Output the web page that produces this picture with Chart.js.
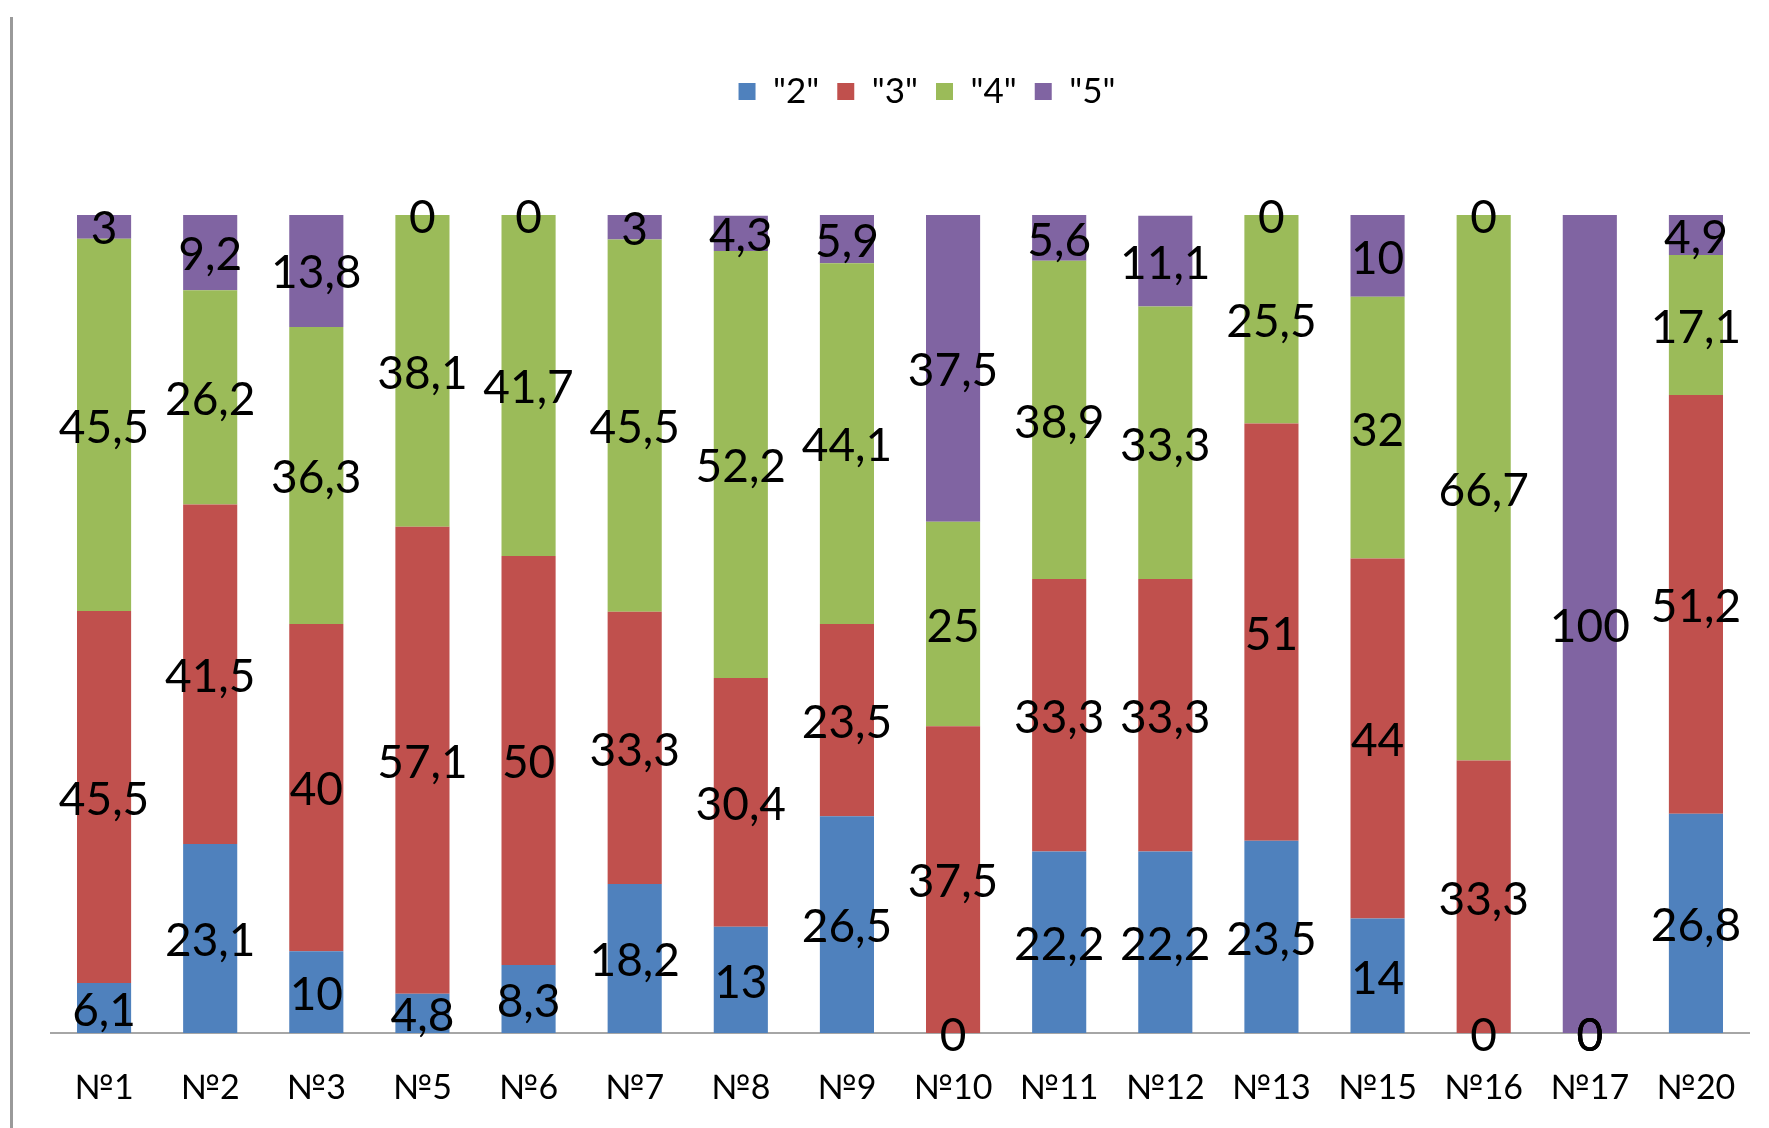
<!DOCTYPE html>
<html lang="ru">
  <head>
    <meta charset="UTF-8" />
    <title>Оценки по классам</title>
    <script src="https://cdn.jsdelivr.net/npm/chart.js"></script>
    <style>
      body {
        margin: 0;
        background: #ffffff;
      }
      /* chart frame */
      .wrap {
        position: relative;
        width: 1769px;
        height: 1128px;
      }
      .wrap .frame {
        position: absolute;
        left: 10px;
        top: 17px;
        bottom: 0;
        width: 3px;
        background: #9a9a9a;
      }
    </style>
  </head>
  <body>
    <div class="wrap">
      <div class="frame"></div>
      <canvas id="gradesChart" width="1769" height="1128"></canvas>
    </div>

    <script>
      // categories and percentages per grade (bottom to top)
      const categories = ["№1", "№2", "№3", "№5", "№6", "№7", "№8", "№9",
        "№10", "№11", "№12", "№13", "№15", "№16", "№17", "№20"];
      const grade2 = [6.1, 23.1, 10, 4.8, 8.3, 18.2, 13, 26.5, 0, 22.2, 22.2, 23.5, 14, 0, 0, 26.8];
      const grade3 = [45.5, 41.5, 40, 57.1, 50, 33.3, 30.4, 23.5, 37.5, 33.3, 33.3, 51, 44, 33.3, 0, 51.2];
      const grade4 = [45.5, 26.2, 36.3, 38.1, 41.7, 45.5, 52.2, 44.1, 25, 38.9, 33.3, 25.5, 32, 66.7, 0, 17.1];
      const grade5 = [3, 9.2, 13.8, 0, 0, 3, 4.3, 5.9, 37.5, 5.6, 11.1, 0, 10, 0, 100, 4.9];
      const seriesNames = ['"2"', '"3"', '"4"', '"5"'];
      const seriesColors = ["#4f81bd", "#c0504d", "#9bbb59", "#8064a2"];

      const FONT = "Lato, 'Open Sans', sans-serif";

      // value labels in the middle of each segment
      const valueLabels = {
        id: "valueLabels",
        afterDatasetsDraw(chart) {
          const ctx = chart.ctx;
          ctx.save();
          ctx.font = "46px " + FONT;
          ctx.fillStyle = "#000";
          ctx.textAlign = "center";
          ctx.textBaseline = "middle";
          chart.data.datasets.forEach((ds, i) => {
            const meta = chart.getDatasetMeta(i);
            meta.data.forEach((bar, j) => {
              const v = ds.data[j];
              const cy = (bar.y + bar.base) / 2 + 3;
              ctx.fillText(String(v).replace(".", ","), bar.x, cy);
            });
          });
          ctx.restore();
        },
      };

      // extra room below the legend, and legend nudged right
      const legendGap = {
        id: "legendGap",
        beforeInit(chart) {
          const fit = chart.legend.fit;
          chart.legend.fit = function () {
            fit.bind(chart.legend)();
            this.height += 96;
          };
        },
        afterLayout(chart) {
          chart.legend.left += 27;
          chart.legend.right += 27;
        },
      };

      const datasets = [grade2, grade3, grade4, grade5].map((d, i) => ({
        label: seriesNames[i],
        data: d,
        backgroundColor: seriesColors[i],
        borderWidth: 0,
      }));

      new Chart(document.getElementById("gradesChart"), {
        type: "bar",
        data: { labels: categories, datasets: datasets },
        options: {
          responsive: false,
          animation: false,
          layout: { padding: { left: 51, right: 20, top: 56, bottom: 0 } },
          datasets: {
            bar: { categoryPercentage: 1, barPercentage: 0.51 },
          },
          scales: {
            x: {
              stacked: true,
              grid: { display: false },
              border: { display: true, color: "#a6a6a6", width: 2 },
              ticks: {
                padding: 27,
                color: "#000",
                font: { family: FONT, size: 34 },
              },
              afterFit(scale) {
                scale.height = 95;
              },
            },
            y: {
              stacked: true,
              display: false,
              min: 0,
              max: 100,
            },
          },
          plugins: {
            tooltip: { enabled: false },
            legend: {
              position: "top",
              labels: {
                boxWidth: 17,
                boxHeight: 17,
                padding: 18,
                color: "#000",
                font: { family: FONT, size: 35 },
              },
            },
          },
        },
        plugins: [valueLabels, legendGap],
      });
    </script>
  </body>
</html>
